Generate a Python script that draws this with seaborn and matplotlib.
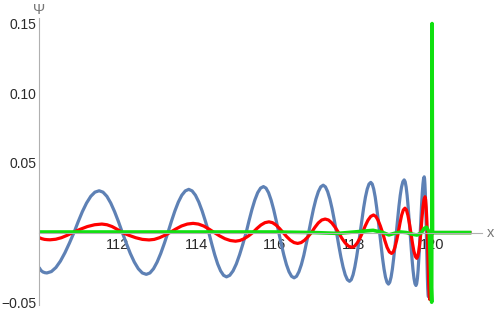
import matplotlib
matplotlib.use("Agg")
import matplotlib.pyplot as plt
import seaborn as sns
from matplotlib.ticker import FixedLocator, MultipleLocator, FixedFormatter

# ---- data ----
blue_x = [110.00, 110.05, 110.10, 110.15, 110.20,
          110.315, 110.43, 110.545, 110.66, 110.775, 110.89,
          110.997, 111.103, 111.21, 111.317, 111.423, 111.53,
          111.628, 111.727, 111.825, 111.923, 112.022, 112.12,
          112.222, 112.323, 112.425, 112.527, 112.628, 112.73,
          112.822, 112.913, 113.005, 113.097, 113.188, 113.28,
          113.368, 113.457, 113.545, 113.633, 113.722, 113.81,
          113.895, 113.98, 114.065, 114.15, 114.235, 114.32,
          114.395, 114.47, 114.545, 114.62, 114.695, 114.77,
          114.853, 114.937, 115.02, 115.103, 115.187, 115.27,
          115.343, 115.417, 115.49, 115.563, 115.637, 115.71,
          115.775, 115.84, 115.905, 115.97, 116.035, 116.10,
          116.165, 116.23, 116.295, 116.36, 116.425, 116.49,
          116.552, 116.613, 116.675, 116.737, 116.798, 116.86,
          116.922, 116.983, 117.045, 117.107, 117.168, 117.23,
          117.287, 117.343, 117.40, 117.457, 117.513, 117.57,
          117.625, 117.68, 117.735, 117.79, 117.845, 117.90,
          117.945, 117.99, 118.035, 118.08, 118.125, 118.17,
          118.215, 118.26, 118.305, 118.35, 118.395, 118.44,
          118.478, 118.515, 118.553, 118.59, 118.628, 118.665,
          118.703, 118.74, 118.778, 118.815, 118.853, 118.89,
          118.923, 118.957, 118.99, 119.023, 119.057, 119.09,
          119.123, 119.157, 119.19, 119.223, 119.257, 119.29,
          119.315, 119.34, 119.365, 119.39, 119.415, 119.44,
          119.465, 119.49, 119.515, 119.54, 119.565, 119.59,
          119.608, 119.627, 119.645, 119.663, 119.682, 119.70,
          119.717, 119.733, 119.75, 119.767, 119.783, 119.80,
          119.809, 119.818, 119.828, 119.837, 119.846, 119.855,
          119.864, 119.872, 119.881, 119.889, 119.898, 119.906,
          119.917, 119.927, 119.938, 119.949, 119.959, 119.97,
          121.00]
blue_y = [-0.0250, -0.0272, -0.0283, -0.0288, -0.0290,
          -0.0280, -0.0251, -0.0205, -0.0145, -0.0075, 0.0,
          0.0078, 0.0150, 0.0212, 0.0260, 0.0290, 0.0300,
          0.0290, 0.0260, 0.0212, 0.0150, 0.0078, 0.0,
          -0.0078, -0.0150, -0.0212, -0.0260, -0.0290, -0.0300,
          -0.0290, -0.0260, -0.0212, -0.0150, -0.0078, 0.0,
          0.0080, 0.0155, 0.0219, 0.0268, 0.0299, 0.0310,
          0.0299, 0.0268, 0.0219, 0.0155, 0.0080, 0.0,
          -0.0082, -0.0159, -0.0225, -0.0275, -0.0307, -0.0318,
          -0.0307, -0.0275, -0.0225, -0.0159, -0.0082, 0.0,
          0.0085, 0.0165, 0.0233, 0.0286, 0.0319, 0.0330,
          0.0319, 0.0286, 0.0233, 0.0165, 0.0085, 0.0,
          -0.0084, -0.0163, -0.0230, -0.0281, -0.0314, -0.0325,
          -0.0314, -0.0281, -0.0230, -0.0163, -0.0084, 0.0,
          0.0088, 0.0170, 0.0240, 0.0294, 0.0328, 0.0340,
          0.0328, 0.0294, 0.0240, 0.0170, 0.0088, 0.0,
          -0.0091, -0.0175, -0.0247, -0.0303, -0.0338, -0.0350,
          -0.0338, -0.0303, -0.0247, -0.0175, -0.0091, 0.0,
          0.0093, 0.0180, 0.0255, 0.0312, 0.0348, 0.0360,
          0.0348, 0.0312, 0.0255, 0.0180, 0.0093, 0.0,
          -0.0096, -0.0185, -0.0262, -0.0320, -0.0357, -0.0370,
          -0.0357, -0.0320, -0.0262, -0.0185, -0.0096, 0.0,
          0.0098, 0.0189, 0.0267, 0.0327, 0.0365, 0.0378,
          0.0365, 0.0327, 0.0267, 0.0189, 0.0098, 0.0,
          -0.0098, -0.0190, -0.0269, -0.0329, -0.0367, -0.0380,
          -0.0367, -0.0329, -0.0269, -0.0190, -0.0098, 0.0,
          0.0104, 0.0200, 0.0283, 0.0346, 0.0386, 0.0400,
          0.0386, 0.0346, 0.0283, 0.0200, 0.0104, 0.0,
          -0.0119, -0.0230, -0.0325, -0.0398, -0.0444, -0.0460,
          -0.0444, -0.0398, -0.0325, -0.0230, -0.0119, 0.0,
          0.0]

red_x = [110.00, 110.07, 110.14, 110.21, 110.28,
         110.425, 110.57, 110.715, 110.86,
         111.045, 111.23, 111.415, 111.60, 111.73, 111.86, 111.99, 112.12,
         112.29, 112.46, 112.63, 112.80, 112.933, 113.065, 113.198, 113.33,
         113.478, 113.625, 113.773, 113.92, 114.055, 114.19, 114.325, 114.46,
         114.595, 114.73, 114.865, 115.00, 115.11, 115.22, 115.33, 115.44,
         115.543, 115.645, 115.748, 115.85, 115.94, 116.03, 116.12, 116.21,
         116.303, 116.395, 116.488, 116.58, 116.668, 116.755, 116.843, 116.93,
         117.018, 117.105, 117.193, 117.28, 117.365, 117.45, 117.535, 117.62,
         117.705, 117.79, 117.875, 117.96, 118.028, 118.095, 118.163, 118.23,
         118.30, 118.37, 118.44, 118.51, 118.568, 118.625, 118.683, 118.74,
         118.798, 118.855, 118.913, 118.97, 119.013, 119.055, 119.098, 119.14,
         119.183, 119.225, 119.268, 119.31, 119.348, 119.385, 119.423, 119.46,
         119.498, 119.535, 119.573, 119.61, 119.636, 119.663, 119.689, 119.715,
         119.741, 119.768, 119.794, 119.82, 119.835, 119.85, 119.865, 119.88,
         119.895, 119.91, 119.925, 119.94, 119.953, 119.965, 119.978, 119.99,
         121.00]
red_y = [-0.0036, -0.0044, -0.0049, -0.0051, -0.0052,
         -0.0048, -0.0037, -0.0020, 0.0,
         0.0023, 0.0043, 0.0056, 0.0061, 0.0056, 0.0043, 0.0023, 0.0,
         -0.0020, -0.0037, -0.0049, -0.0053, -0.0049, -0.0037, -0.0020, 0.0,
         0.0025, 0.0047, 0.0061, 0.0066, 0.0061, 0.0047, 0.0025, 0.0,
         -0.0024, -0.0044, -0.0057, -0.0062, -0.0057, -0.0044, -0.0024, 0.0,
         0.0029, 0.0054, 0.0071, 0.0077, 0.0071, 0.0054, 0.0029, 0.0,
         -0.0030, -0.0055, -0.0072, -0.0078, -0.0072, -0.0055, -0.0030, 0.0,
         0.0037, 0.0069, 0.0090, 0.0097, 0.0090, 0.0069, 0.0037, 0.0,
         -0.0041, -0.0075, -0.0098, -0.0106, -0.0098, -0.0075, -0.0041, 0.0,
         0.0048, 0.0089, 0.0116, 0.0126, 0.0116, 0.0089, 0.0048, 0.0,
         -0.0057, -0.0106, -0.0139, -0.0150, -0.0139, -0.0106, -0.0057, 0.0,
         0.0067, 0.0124, 0.0162, 0.0175, 0.0162, 0.0124, 0.0067, 0.0,
         -0.0071, -0.0131, -0.0171, -0.0185, -0.0171, -0.0131, -0.0071, 0.0,
         0.0098, 0.0182, 0.0237, 0.0257, 0.0237, 0.0182, 0.0098, 0.0,
         -0.0184, -0.0339, -0.0444, -0.0480, -0.0444, -0.0339, -0.0184, 0.0,
         0.0]

green_x = [110.0, 116.0, 117.0, 117.6, 118.1, 118.5, 118.75, 118.9,
           119.05, 119.2, 119.35, 119.5, 119.62, 119.73, 119.80, 119.86,
           119.93, 119.99, 120.0, 120.012, 121.0]
green_y = [0.0004, 0.0004, 0.0, -0.0006, 0.0006, 0.0016, 0.0, -0.0017,
           -0.0005, 0.0004, 0.0, -0.0012, -0.0018, 0.0, 0.003, 0.0038,
           0.0, -0.05, 0.15, 0.0, 0.0]

x_major = [112, 114, 116, 118, 120]
y_major = [-0.05, 0.05, 0.10, 0.15]
y_labels = ["\u22120.05", "0.05", "0.10", "0.15"]

# ---- figure ----
sns.set_style("white")
plt.rcParams['font.family'] = ['Liberation Sans', 'DejaVu Sans']

fig = plt.figure(figsize=(4.98, 3.10), dpi=100)
ax = fig.add_axes([39 / 498, 5 / 310, 443 / 498, 287 / 310])

series = [(blue_x, blue_y, "#5E81B5", 2.3),
          (red_x, red_y, "#FF0000", 2.3),
          (green_x, green_y, "#10E010", 2.6)]
for xs, ys, col, lw in series:
    sns.lineplot(x=xs, y=ys, color=col, linewidth=lw, sort=False,
                 estimator=None, ax=ax, solid_joinstyle="round",
                 solid_capstyle="butt")

ax.set_xlim(110, 121.27)
ax.set_ylim(-0.052, 0.154)
ax.set_xlabel("")
ax.set_ylabel("")

for s in ["top", "right"]:
    ax.spines[s].set_visible(False)
ax.spines["bottom"].set_position(("data", 0))
for s in ["left", "bottom"]:
    ax.spines[s].set_color("#b0b0b0")
    ax.spines[s].set_linewidth(0.8)

ax.xaxis.set_major_locator(FixedLocator(x_major))
ax.xaxis.set_minor_locator(MultipleLocator(0.5))
ax.yaxis.set_major_locator(FixedLocator(y_major))
ax.yaxis.set_major_formatter(FixedFormatter(y_labels))
ax.yaxis.set_minor_locator(MultipleLocator(0.01))

ax.tick_params(which="both", direction="in", color="#b0b0b0", width=0.8,
               labelcolor="#2a2a2a")
ax.tick_params(which="major", length=4.5)
ax.tick_params(which="minor", length=2.5)
ax.tick_params(axis="x", pad=4, labelsize=10.5)
ax.tick_params(axis="y", pad=2, labelsize=10)

ax.text(121.27 + 0.12, 0.0, "x", ha="left", va="center", fontsize=10.5,
        color="#777777", clip_on=False)
ax.text(110.0, 0.154 + 0.001, "\u03a8", ha="center", va="bottom", fontsize=10.5,
        color="#777777", clip_on=False)

fig.savefig("out.png", dpi=100)
